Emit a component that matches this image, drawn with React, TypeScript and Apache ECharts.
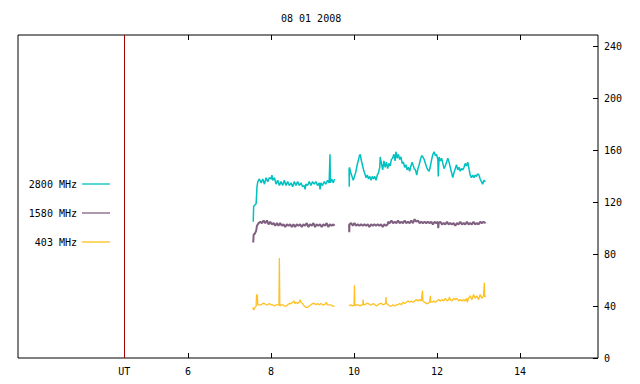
import React, { useEffect, useRef } from "react";
import * as echarts from "echarts";

const TITLE = "08 01 2008";
const X_TICKS = [6, 8, 10, 12, 14];
const UT_MARK = 4.46;
const Y_TICKS = [0, 40, 80, 120, 160, 200, 240];

const NAMES = ["2800 MHz", "1580 MHz", "403 MHz"];
const COLORS = ["#00c0c0", "#806080", "#ffc020"];

const s2800a: [number, number][] = [
  [7.57, 105], [7.58, 117], [7.61, 118], [7.64, 119], [7.66, 132], [7.68, 136], [7.72, 138], [7.76, 135],
  [7.8, 138], [7.84, 134], [7.88, 139], [7.92, 136], [7.96, 139], [8.0, 138], [8.02, 141], [8.04, 137],
  [8.08, 139], [8.12, 134], [8.16, 137], [8.2, 133], [8.24, 136], [8.28, 133], [8.32, 137], [8.36, 133],
  [8.4, 136], [8.44, 133], [8.48, 135], [8.52, 132], [8.56, 136], [8.6, 133], [8.64, 136], [8.68, 133],
  [8.72, 135], [8.76, 132], [8.8, 133], [8.82, 130], [8.84, 134], [8.88, 133], [8.92, 136], [8.96, 133],
  [9.0, 136], [9.04, 134], [9.08, 136], [9.12, 133], [9.16, 135], [9.18, 130], [9.2, 135], [9.24, 133],
  [9.28, 136], [9.32, 134], [9.36, 137], [9.4, 135], [9.42, 157], [9.43, 135], [9.46, 138], [9.5, 135], [9.53, 138],
];
const s2800b: [number, number][] = [
  [9.88, 146], [9.885, 132], [9.89, 147], [9.92, 143], [9.95, 140], [9.98, 137], [10.01, 140], [10.04, 143],
  [10.07, 148], [10.1, 152], [10.13, 156], [10.15, 157], [10.17, 153], [10.2, 149], [10.23, 145], [10.26, 142],
  [10.29, 139], [10.32, 141], [10.35, 138], [10.38, 140], [10.41, 137], [10.44, 140], [10.47, 138], [10.5, 140],
  [10.53, 137], [10.56, 141], [10.59, 143], [10.62, 147], [10.63, 155], [10.66, 150], [10.69, 145], [10.72, 152],
  [10.75, 147], [10.78, 151], [10.81, 146], [10.84, 150], [10.87, 148], [10.9, 153], [10.93, 154], [10.96, 157],
  [10.99, 152], [11.01, 159], [11.04, 154], [11.07, 157], [11.1, 153], [11.13, 155], [11.16, 150], [11.19, 151],
  [11.22, 147], [11.25, 149], [11.28, 145], [11.31, 147], [11.34, 144], [11.37, 148], [11.4, 151], [11.42, 149],
  [11.45, 146], [11.48, 145], [11.51, 141], [11.54, 146], [11.57, 149], [11.6, 153], [11.63, 156], [11.66, 155],
  [11.69, 153], [11.72, 150], [11.75, 147], [11.78, 145], [11.81, 144], [11.84, 148], [11.87, 153], [11.9, 157],
  [11.93, 159], [11.96, 156], [11.99, 157], [12.02, 153], [12.03, 140], [12.05, 155], [12.08, 152], [12.11, 154],
  [12.14, 150], [12.17, 146], [12.2, 148], [12.23, 151], [12.26, 154], [12.29, 151], [12.32, 147], [12.35, 143],
  [12.38, 139], [12.41, 143], [12.44, 146], [12.47, 149], [12.5, 145], [12.53, 147], [12.56, 144], [12.59, 146],
  [12.62, 145], [12.65, 147], [12.68, 150], [12.71, 148], [12.74, 151], [12.77, 146], [12.8, 141], [12.83, 139],
  [12.86, 141], [12.89, 139], [12.92, 141], [12.95, 140], [12.98, 142], [13.01, 141], [13.04, 138], [13.07, 136],
  [13.1, 134], [13.13, 137], [13.17, 136],
];

const s1580a: [number, number][] = [
  [7.57, 89], [7.58, 95], [7.61, 96], [7.64, 98], [7.66, 102], [7.7, 104], [7.74, 105], [7.78, 104],
  [7.82, 106], [7.86, 104], [7.9, 106], [7.94, 103], [7.98, 105], [8.02, 103], [8.06, 104], [8.1, 102],
  [8.14, 104], [8.18, 102], [8.22, 104], [8.26, 102], [8.3, 103], [8.34, 101], [8.38, 103], [8.42, 102],
  [8.46, 103], [8.5, 101], [8.54, 103], [8.58, 101], [8.62, 103], [8.66, 102], [8.7, 103], [8.74, 101],
  [8.78, 103], [8.82, 102], [8.86, 104], [8.9, 101], [8.94, 103], [8.98, 102], [9.02, 104], [9.06, 101],
  [9.1, 103], [9.14, 102], [9.18, 103], [9.22, 101], [9.26, 103], [9.3, 102], [9.34, 104], [9.38, 101],
  [9.42, 103], [9.46, 102], [9.5, 103], [9.53, 102],
];
const s1580b: [number, number][] = [
  [9.88, 103], [9.885, 97], [9.89, 103], [9.93, 104], [9.97, 102], [10.01, 104], [10.05, 102], [10.09, 103],
  [10.13, 102], [10.17, 103], [10.21, 102], [10.25, 103], [10.29, 102], [10.33, 103], [10.37, 101], [10.41, 103],
  [10.45, 102], [10.49, 103], [10.53, 102], [10.57, 103], [10.61, 102], [10.65, 103], [10.69, 101], [10.73, 103],
  [10.77, 102], [10.81, 103], [10.82, 105], [10.86, 104], [10.9, 106], [10.94, 104], [10.98, 105], [11.02, 104],
  [11.06, 106], [11.1, 104], [11.14, 105], [11.18, 104], [11.22, 106], [11.26, 104], [11.3, 105], [11.34, 104],
  [11.38, 106], [11.42, 104], [11.46, 107], [11.5, 105], [11.54, 106], [11.58, 104], [11.62, 105], [11.66, 104],
  [11.7, 105], [11.74, 104], [11.78, 105], [11.82, 104], [11.86, 105], [11.9, 103], [11.94, 105], [11.98, 104],
  [12.02, 105], [12.03, 100], [12.04, 104], [12.08, 105], [12.12, 103], [12.16, 104], [12.2, 103], [12.24, 105],
  [12.28, 103], [12.32, 104], [12.36, 103], [12.4, 104], [12.44, 102], [12.48, 104], [12.52, 103], [12.56, 105],
  [12.6, 103], [12.64, 104], [12.68, 103], [12.72, 105], [12.76, 103], [12.8, 104], [12.84, 103], [12.88, 105],
  [12.92, 103], [12.96, 104], [13.0, 103], [13.04, 105], [13.08, 104], [13.12, 105], [13.17, 104],
];

const s403a: [number, number][] = [
  [7.56, 39], [7.58, 37], [7.61, 39], [7.64, 40], [7.65, 49], [7.67, 48], [7.68, 41], [7.72, 41],
  [7.76, 41], [7.8, 42], [7.84, 42], [7.88, 41], [7.92, 41], [7.96, 42], [8.0, 41], [8.04, 41],
  [8.08, 40], [8.12, 41], [8.16, 41], [8.19, 41], [8.2, 77], [8.21, 40], [8.24, 41], [8.28, 41],
  [8.32, 40], [8.36, 40], [8.4, 41], [8.44, 42], [8.48, 42], [8.52, 43], [8.55, 44], [8.57, 42],
  [8.6, 43], [8.64, 42], [8.68, 43], [8.7, 45], [8.72, 43], [8.76, 42], [8.8, 40], [8.84, 39],
  [8.88, 39], [8.92, 40], [8.96, 41], [9.0, 42], [9.04, 42], [9.08, 41], [9.12, 42], [9.16, 41],
  [9.2, 42], [9.24, 41], [9.28, 41], [9.32, 42], [9.33, 43], [9.36, 41], [9.4, 41], [9.44, 41], [9.48, 40], [9.53, 40],
];
const s403b: [number, number][] = [
  [9.88, 40], [9.92, 41], [9.96, 40], [10.0, 41], [10.01, 56], [10.02, 40], [10.06, 41], [10.1, 41],
  [10.14, 40], [10.18, 41], [10.21, 41], [10.22, 45], [10.23, 41], [10.26, 41], [10.3, 42], [10.34, 42],
  [10.38, 41], [10.42, 41], [10.46, 42], [10.5, 41], [10.54, 40], [10.58, 41], [10.62, 42], [10.66, 42],
  [10.7, 41], [10.76, 42], [10.77, 47], [10.78, 42], [10.82, 41], [10.86, 40], [10.9, 40], [10.94, 41],
  [10.98, 40], [11.02, 41], [11.06, 41], [11.1, 42], [11.14, 41], [11.18, 43], [11.22, 42], [11.26, 43],
  [11.3, 44], [11.34, 43], [11.38, 44], [11.42, 43], [11.46, 44], [11.5, 45], [11.54, 44], [11.58, 45],
  [11.62, 44], [11.65, 52], [11.66, 44], [11.7, 43], [11.74, 42], [11.78, 42], [11.82, 43], [11.84, 48],
  [11.85, 43], [11.88, 43], [11.92, 44], [11.96, 43], [12.0, 44], [12.04, 45], [12.08, 44], [12.12, 45],
  [12.16, 44], [12.2, 46], [12.24, 44], [12.28, 45], [12.3, 47], [12.32, 45], [12.36, 44], [12.4, 46],
  [12.44, 45], [12.48, 46], [12.52, 44], [12.56, 45], [12.6, 44], [12.64, 45], [12.68, 44], [12.71, 46],
  [12.73, 43], [12.76, 46], [12.8, 48], [12.84, 45], [12.88, 49], [12.92, 46], [12.96, 48], [13.0, 45],
  [13.04, 49], [13.08, 46], [13.12, 48], [13.14, 58], [13.15, 47], [13.17, 48],
];

const GAP_T = 9.7;
const FONT = "DejaVu Sans Mono";

export default function App() {
  const ref = useRef<HTMLDivElement>(null);
  useEffect(() => {
    if (!ref.current) return;
    const chart = echarts.init(ref.current, null, { renderer: "svg" });
    const segs = [
      [s2800a, s2800b],
      [s1580a, s1580b],
      [s403a, s403b],
    ];
    const widths = [1.5, 2, 1.3];
    const legendY = [179, 208, 237];
    const series: any[] = NAMES.map((name, i) => ({
      name,
      type: "line",
      data: [...segs[i][0], [GAP_T, null], ...segs[i][1]],
      showSymbol: false,
      symbol: "none",
      connectNulls: false,
      lineStyle: { color: COLORS[i], width: widths[i] },
      itemStyle: { color: COLORS[i] },
      xAxisIndex: 0,
      yAxisIndex: 0,
      z: 3 - i,
    }));
    series[0].markLine = {
      silent: true,
      symbol: "none",
      label: { show: false },
      lineStyle: { color: "#a00000", width: 1, type: "solid" },
      data: [{ xAxis: UT_MARK }],
    };
    const option: any = {
      animation: false,
      backgroundColor: "#ffffff",
      title: {
        text: TITLE,
        left: 281,
        top: 13,
        padding: 0,
        textStyle: { fontFamily: FONT, fontSize: 10, fontWeight: "normal", color: "#000" },
      },
      legend: NAMES.map((name, i) => ({
        data: [name],
        right: 530,
        top: legendY[i],
        padding: 0,
        orient: "vertical",
        align: "right",
        icon: "rect",
        itemWidth: 28,
        itemHeight: 1.3,
        itemGap: 0,
        selectedMode: false,
        textStyle: { fontFamily: FONT, fontSize: 10, color: "#000" },
      })),
      grid: {
        left: 18,
        top: 35,
        right: 42,
        bottom: 26,
        show: true,
        borderColor: "#000",
        borderWidth: 1,
        backgroundColor: "transparent",
      },
      xAxis: [
        {
          type: "value",
          min: 1.9,
          max: 15.88,
          position: "bottom",
          axisLine: { show: false },
          splitLine: { show: false },
          axisTick: { show: true, inside: true, length: 5, customValues: X_TICKS, lineStyle: { color: "#000" } },
          axisLabel: {
            show: true,
            customValues: [UT_MARK, ...X_TICKS],
            margin: 8,
            fontFamily: FONT,
            fontSize: 10,
            color: "#000",
            formatter: (v: number) => (Math.abs(v - UT_MARK) < 0.001 ? "UT" : String(v)),
          },
        },
        {
          type: "value",
          min: 1.9,
          max: 15.88,
          position: "top",
          axisLine: { show: false },
          splitLine: { show: false },
          axisTick: { show: true, inside: true, length: 5, customValues: X_TICKS, lineStyle: { color: "#000" } },
          axisLabel: { show: false },
        },
      ],
      yAxis: [
        {
          type: "value",
          min: 0,
          max: 249,
          position: "right",
          axisLine: { show: false },
          splitLine: { show: false },
          axisTick: { show: true, inside: true, length: 5, customValues: Y_TICKS, lineStyle: { color: "#000" } },
          axisLabel: {
            show: true,
            customValues: Y_TICKS,
            margin: 6,
            fontFamily: FONT,
            fontSize: 10,
            color: "#000",
          },
        },
      ],
      series,
    };
    chart.setOption(option);
    return () => chart.dispose();
  }, []);
  return (
    <div
      ref={ref}
      style={{ position: "fixed", left: 0, top: 0, width: 640, height: 384, background: "#fff" }}
    />
  );
}
